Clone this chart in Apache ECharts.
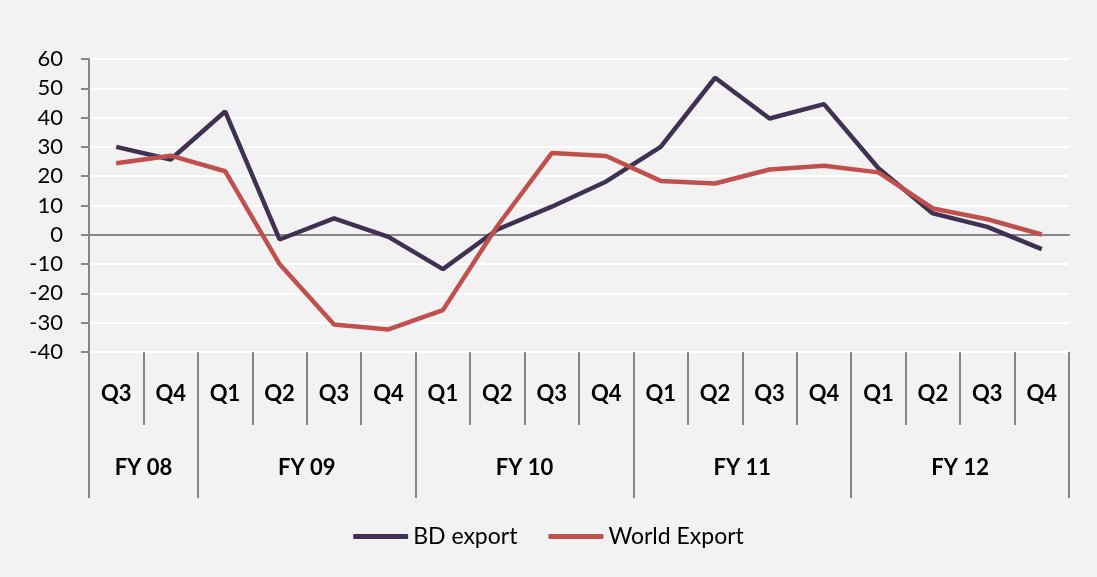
<!DOCTYPE html>
<html>
<head>
<meta charset="utf-8">
<script src="https://cdn.jsdelivr.net/npm/echarts@6/dist/echarts.min.js"></script>
<style>
  html, body { margin: 0; padding: 0; background: #f2f2f2; }
  #main { width: 1097px; height: 577px; }
</style>
</head>
<body>
<div id="main"></div>
<script>
// quarters on the x axis (FY08 Q3 .. FY12 Q4)
var quarters = ['Q3', 'Q4', 'Q1', 'Q2', 'Q3', 'Q4', 'Q1', 'Q2', 'Q3', 'Q4',
                'Q1', 'Q2', 'Q3', 'Q4', 'Q1', 'Q2', 'Q3', 'Q4'];
var years = ['FY 08', 'FY 09', 'FY 10', 'FY 11', 'FY 12'];
var quartersPerYear = [2, 4, 4, 4, 4];

var bdExport = [30.0, 25.7, 42.1, -1.6, 5.6, -0.7, -11.7, 1.8, 9.6, 18.2,
                30.0, 53.6, 39.7, 44.6, 22.7, 7.3, 2.7, -4.9];
var worldExport = [24.4, 27.0, 21.7, -10.0, -30.6, -32.3, -25.7, 3.0, 27.9, 26.9,
                   18.4, 17.5, 22.3, 23.6, 21.3, 9.0, 5.3, 0.1];

var yTicks = [-40, -30, -20, -10, 0, 10, 20, 30, 40, 50, 60];

// year level: one slot per quarter boundary, label in the middle of each year
var boundaries = [0];
quartersPerYear.forEach(function (n) { boundaries.push(boundaries[boundaries.length - 1] + n); });
var yearSlots = [];
for (var i = 0; i <= quarters.length; i++) yearSlots.push('');
years.forEach(function (y, k) {
    yearSlots[(boundaries[k] + boundaries[k + 1]) / 2] = y;
});

var FONT = 'Lato';
var GREY = '#868686';

var main = echarts.init(document.getElementById('main'));
var option = {
    backgroundColor: '#f2f2f2',
    animation: false,
    grid: {
        left: 89,
        right: 28,
        top: 59,
        bottom: 225,
        outerBoundsMode: 'none'
    },
    legend: {
        data: ['BD export', 'World Export'],
        left: 'center',
        top: 520,
        icon: 'roundRect',
        itemWidth: 55,
        itemHeight: 5,
        itemGap: 31,
        textStyle: { fontFamily: FONT, fontSize: 23, color: '#000' }
    },
    xAxis: [
        {
            // zero line with small ticks
            type: 'category',
            data: quarters,
            boundaryGap: true,
            axisLine: { onZero: true, lineStyle: { color: GREY, width: 2 } },
            axisTick: { length: 7, lineStyle: { color: GREY, width: 2 } },
            axisLabel: { show: false },
            splitLine: { show: false }
        },
        {
            // quarter labels
            type: 'category',
            data: quarters,
            position: 'bottom',
            boundaryGap: true,
            axisLine: { show: false, onZero: false },
            axisTick: { show: true, length: 73, lineStyle: { color: GREY, width: 2 } },
            axisLabel: {
                interval: 0,
                margin: 42,
                verticalAlign: 'middle',
                fontFamily: FONT,
                fontSize: 22,
                fontWeight: 'bold',
                color: '#000'
            },
            splitLine: { show: false }
        },
        {
            // fiscal year labels
            type: 'category',
            data: yearSlots,
            position: 'bottom',
            boundaryGap: false,
            axisLine: { show: false, onZero: false },
            axisTick: {
                show: true,
                length: 146,
                interval: function (idx) { return boundaries.indexOf(idx) >= 0; },
                lineStyle: { color: GREY, width: 2 }
            },
            axisLabel: {
                interval: 0,
                margin: 116,
                verticalAlign: 'middle',
                fontFamily: FONT,
                fontSize: 22,
                fontWeight: 'bold',
                color: '#000'
            },
            splitLine: { show: false }
        }
    ],
    yAxis: {
        type: 'value',
        min: yTicks[0],
        max: yTicks[yTicks.length - 1],
        interval: 10,
        axisLine: { show: true, lineStyle: { color: GREY, width: 2 } },
        axisTick: { show: true, length: 8, lineStyle: { color: GREY, width: 2 } },
        axisLabel: { margin: 26, fontFamily: FONT, fontSize: 22, color: '#000' },
        splitLine: { show: true, lineStyle: { color: '#ffffff', width: 2 } }
    },
    series: [
        {
            name: 'BD export',
            type: 'line',
            xAxisIndex: 0,
            data: bdExport,
            showSymbol: false,
            symbol: 'none',
            color: '#403152',
            lineStyle: { width: 4.5, color: '#403152' }
        },
        {
            name: 'World Export',
            type: 'line',
            xAxisIndex: 0,
            data: worldExport,
            showSymbol: false,
            symbol: 'none',
            color: '#c0504d',
            lineStyle: { width: 4.5, color: '#c0504d' }
        }
    ]
};
main.setOption(option);
</script>
</body>
</html>
